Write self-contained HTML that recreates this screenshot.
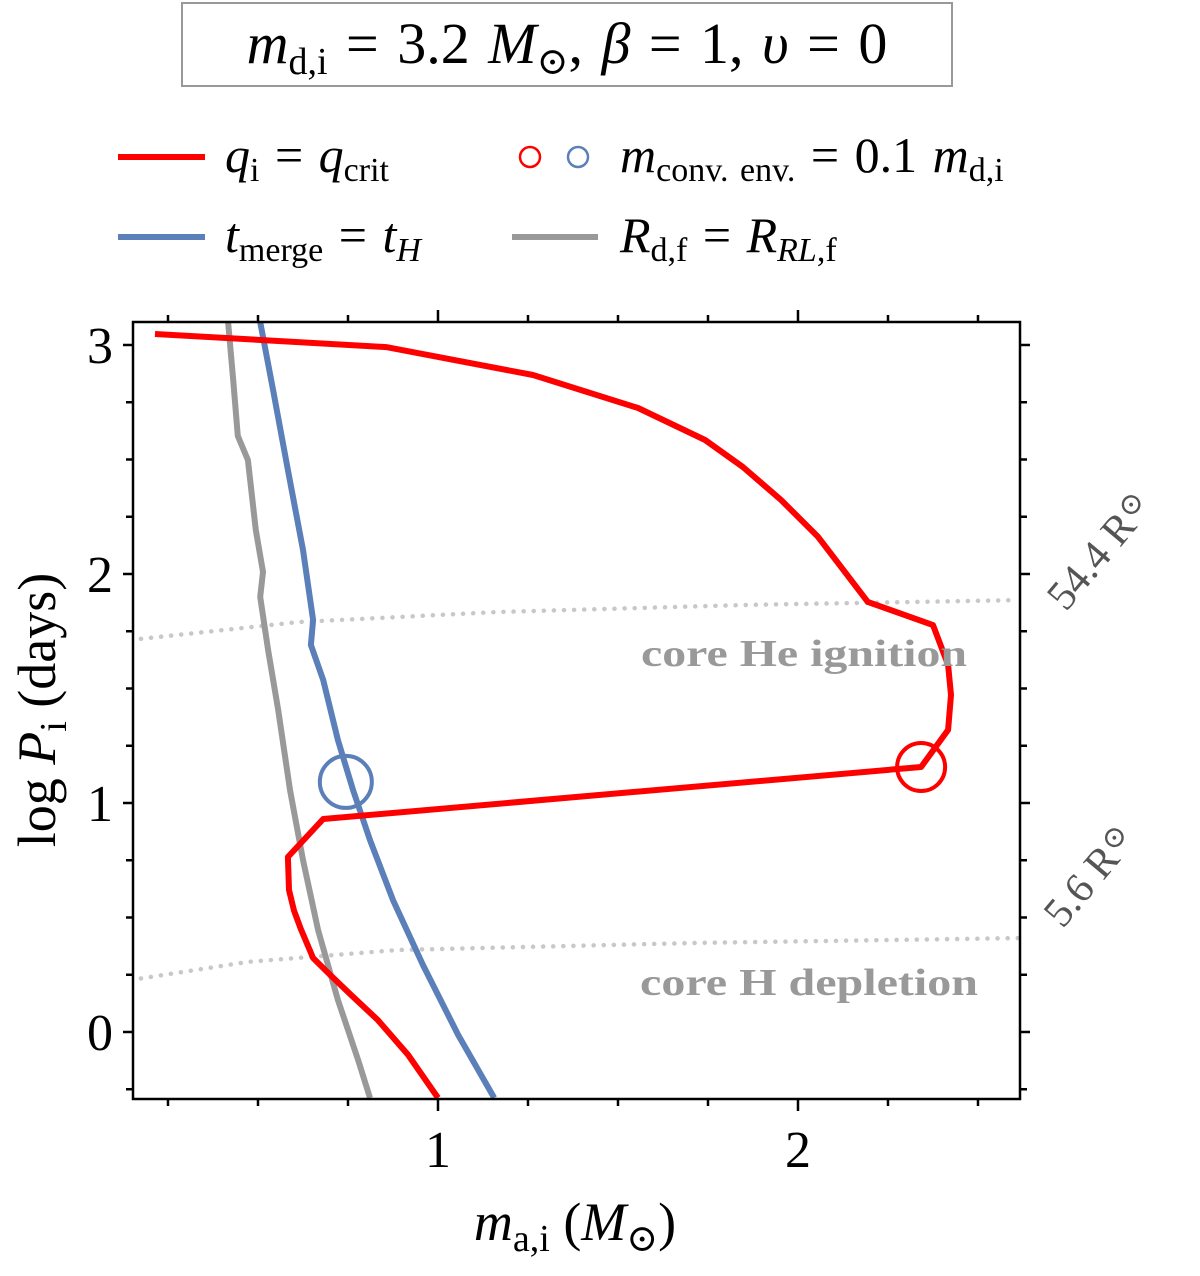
<!DOCTYPE html>
<html><head><meta charset="utf-8"><style>
body{margin:0;background:#fff}
svg{display:block;font-family:"Liberation Serif","DejaVu Serif",serif}
</style></head><body>
<svg id="chart" width="1200" height="1276" viewBox="0 0 1200 1276" xmlns="http://www.w3.org/2000/svg">
<g>
<rect x="182" y="3" width="770" height="83" fill="#fff" stroke="#999" stroke-width="2"/>
<text x="567" y="63" font-size="58" text-anchor="middle" word-spacing="4"><tspan font-style="italic">m</tspan><tspan font-size="38" dy="11">d,i</tspan><tspan dy="-11"> = 3.2 </tspan><tspan font-style="italic">M</tspan><tspan font-size="38" dy="11">⊙</tspan><tspan dy="-11">,  </tspan><tspan font-style="italic">β</tspan><tspan> = 1,  </tspan><tspan font-style="italic">υ</tspan><tspan> = 0</tspan></text>
</g>
<g font-size="50" word-spacing="3">
<line x1="118" y1="157" x2="205" y2="157" stroke="#ff0000" stroke-width="6"/>
<text x="225" y="172"><tspan font-style="italic">q</tspan><tspan font-size="34" dy="9">i</tspan><tspan dy="-9"> = </tspan><tspan font-style="italic">q</tspan><tspan font-size="34" dy="9">crit</tspan></text>
<circle cx="530" cy="157" r="10" fill="none" stroke="#ff0000" stroke-width="2.5"/>
<circle cx="578" cy="157" r="10" fill="none" stroke="#5b7fb8" stroke-width="2.5"/>
<text x="620" y="172"><tspan font-style="italic">m</tspan><tspan font-size="34" dy="9">conv. env.</tspan><tspan dy="-9"> = 0.1 </tspan><tspan font-style="italic">m</tspan><tspan font-size="34" dy="9">d,i</tspan></text>
<line x1="118" y1="237" x2="205" y2="237" stroke="#5b7fb8" stroke-width="6"/>
<text x="225" y="252"><tspan font-style="italic">t</tspan><tspan font-size="34" dy="9">merge</tspan><tspan dy="-9"> = </tspan><tspan font-style="italic">t</tspan><tspan font-size="34" font-style="italic" dy="9">H</tspan></text>
<line x1="512" y1="237" x2="598" y2="237" stroke="#999" stroke-width="6"/>
<text x="620" y="252"><tspan font-style="italic">R</tspan><tspan font-size="34" dy="9">d,f</tspan><tspan dy="-9"> = </tspan><tspan font-style="italic">R</tspan><tspan font-size="34" dy="9"><tspan font-style="italic">RL</tspan>,f</tspan></text>
</g>
<defs><clipPath id="pc"><rect x="133" y="322" width="887" height="777"/></clipPath></defs>
<g id="plot" clip-path="url(#pc)"></g>
<g id="axes"></g>
<text x="804" y="666" font-size="38" font-weight="bold" fill="#999" text-anchor="middle" textLength="326" lengthAdjust="spacingAndGlyphs">core He ignition</text>
<text x="809" y="995" font-size="38" font-weight="bold" fill="#999" text-anchor="middle" textLength="338" lengthAdjust="spacingAndGlyphs">core H depletion</text>
<text transform="translate(1110,560) rotate(-50)" font-size="42" fill="#555" text-anchor="middle">54.4 R<tspan font-size="30" dy="-10">⊙</tspan></text>
<text transform="translate(1100,885) rotate(-50)" font-size="42" fill="#555" text-anchor="middle">5.6 R<tspan font-size="30" dy="-10">⊙</tspan></text>
<text x="575" y="1240" font-size="54" text-anchor="middle"><tspan font-style="italic">m</tspan><tspan font-size="38" dy="11">a,i</tspan><tspan dy="-11"> (</tspan><tspan font-style="italic">M</tspan><tspan font-size="38" dy="11">⊙</tspan><tspan dy="-11">)</tspan></text>
<text transform="translate(55,710) rotate(-90)" font-size="54" text-anchor="middle">log <tspan font-style="italic">P</tspan><tspan font-size="38" dy="11">i</tspan><tspan dy="-11"> (days)</tspan></text>
</svg>
<script>
const redX=[0.214,0.856,1.264,1.556,1.742,1.847,1.953,2.056,2.194,2.375,2.417,2.425,2.417,2.342,0.681,0.583,0.586,0.600,0.619,0.653,0.700,0.760,0.833,0.917,1.0];
const redY=[3.048,2.991,2.869,2.725,2.585,2.467,2.323,2.162,1.878,1.777,1.603,1.472,1.319,1.157,0.930,0.764,0.620,0.530,0.450,0.323,0.250,0.160,0.052,-0.100,-0.288];
const blueX=[0.506,0.542,0.583,0.625,0.653,0.647,0.681,0.722,0.764,0.811,0.875,0.958,1.056,1.156];
const blueY=[3.100,2.803,2.454,2.105,1.799,1.690,1.537,1.275,1.057,0.838,0.576,0.293,-0.013,-0.288];
const grayX=[0.417,0.431,0.444,0.472,0.494,0.514,0.506,0.528,0.556,0.589,0.625,0.667,0.722,0.778,0.811];
const grayY=[3.100,2.847,2.603,2.498,2.192,2.009,1.900,1.668,1.406,1.057,0.751,0.445,0.140,-0.122,-0.288];
const heX=[0.147,0.611,1.167,1.861,2.611];
const heY=[1.712,1.790,1.834,1.865,1.886];
const hX=[0.147,0.472,0.889,1.722,2.611];
const hY=[0.227,0.306,0.358,0.389,0.410];
const circRed=[2.342,1.157];
const circBlue=[0.744,1.092];
const xTicks=[1,2];
const yTicks=[0,1,2,3];
const xMinor=[0.25,0.5,0.75,1.25,1.5,1.75,2.25,2.5];
const yMinor=[-0.25,0.25,0.5,0.75,1.25,1.5,1.75,2.25,2.5,2.75];

const NS='http://www.w3.org/2000/svg';
const X0=133,X1=1020,Y0=322,Y1=1099;
const xmin=0.1528,xmax=2.6167,ymin=-0.2926,ymax=3.1004;
const sx=v=>X0+(v-xmin)/(xmax-xmin)*(X1-X0);
const sy=v=>Y1-(v-ymin)/(ymax-ymin)*(Y1-Y0);
function mk(tag,parent,attrs){const e=document.createElementNS(NS,tag);for(const k in attrs)e.setAttribute(k,attrs[k]);parent.appendChild(e);return e;}
const plot=document.getElementById('plot'),axes=document.getElementById('axes');
function line(xs,ys,stroke,w,dash){
  const d=xs.map((x,i)=>(i?'L':'M')+sx(x).toFixed(1)+','+sy(ys[i]).toFixed(1)).join('');
  const a={d:d,fill:'none',stroke:stroke,'stroke-width':w,'stroke-linejoin':'round'};
  if(dash){a['stroke-dasharray']=dash;a['stroke-linecap']='round';}
  return mk('path',plot,a);
}
let e;
e=line(heX,heY,'#c8c8c8',4.5,'0.1 10');


e=line(hX,hY,'#c8c8c8',4.5,'0.1 10');


e=line(grayX,grayY,'#999',6);


e=line(blueX,blueY,'#5b7fb8',6);


e=line(redX,redY,'#ff0000',6);


e=mk('circle',plot,{cx:sx(circRed[0]),cy:sy(circRed[1]),r:24,fill:'none',stroke:'#ff0000','stroke-width':4});


e=mk('circle',plot,{cx:sx(circBlue[0]),cy:sy(circBlue[1]),r:26,fill:'none',stroke:'#5b7fb8','stroke-width':4});


e=mk('rect',axes,{x:X0,y:Y0,width:X1-X0,height:Y1-Y0,fill:'none',stroke:'#000','stroke-width':2.5});


const tk={stroke:'#000','stroke-width':2.5};
xTicks.forEach(v=>{const x=sx(v);
  mk('line',axes,Object.assign({x1:x,x2:x,y1:Y1,y2:Y1+12},tk));
  mk('line',axes,Object.assign({x1:x,x2:x,y1:Y0,y2:Y0-12},tk));
  e=mk('text',axes,{x:x,y:Y1+68,'font-size':52,'text-anchor':'middle'});e.textContent=v;
  
  
});
xMinor.forEach(v=>{const x=sx(v);
  mk('line',axes,Object.assign({x1:x,x2:x,y1:Y1,y2:Y1+7},tk));
  mk('line',axes,Object.assign({x1:x,x2:x,y1:Y0,y2:Y0-7},tk));
});
yTicks.forEach(v=>{const y=sy(v);
  mk('line',axes,Object.assign({x1:X0,x2:X0-10,y1:y,y2:y},tk));
  mk('line',axes,Object.assign({x1:X1,x2:X1+10,y1:y,y2:y},tk));
  e=mk('text',axes,{x:X0-20,y:y+18,'font-size':52,'text-anchor':'end'});e.textContent=v;
  
  
});
yMinor.forEach(v=>{const y=sy(v);
  mk('line',axes,Object.assign({x1:X0,x2:X0-7,y1:y,y2:y},tk));
  mk('line',axes,Object.assign({x1:X1,x2:X1+7,y1:y,y2:y},tk));
});
</script>
</body></html>
